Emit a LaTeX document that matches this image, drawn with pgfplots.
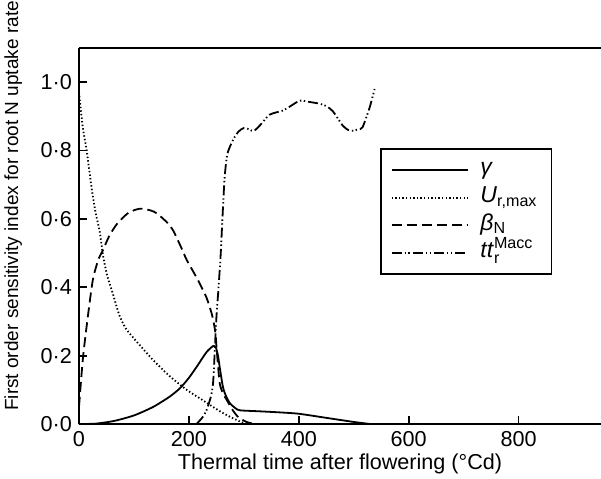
\documentclass[border=0pt]{standalone}
\usepackage{fontspec}
\setmainfont{Liberation Sans}
\usepackage{amsmath}
\usepackage{pgfplots}
\pgfplotsset{compat=1.18}
\usetikzlibrary{calc}

\newcommand{\fs}{\fontsize{10.8}{13}\selectfont}
\newcommand{\fy}{\fontsize{9.5}{11.4}\selectfont}
\newcommand{\fl}{\fontsize{11.5}{13.8}\selectfont}

\begin{document}
\begin{tikzpicture}
\begin{axis}[
    name=ax,
    scale only axis,
    width=261pt, height=188pt,
    xmin=0, xmax=950,
    ymin=0, ymax=1.1,
    axis x line*=box,
    axis y line*=left,
    y axis line style={-},
    axis line style={line width=1pt},
    xtick pos=bottom, ytick pos=left,
    tick align=inside,
    major tick length=4pt,
    tick style={line width=0.9pt, black},
    xtick={0,200,400,600,800},
    ytick={0,0.2,0.4,0.6,0.8,1.0},
    yticklabels={0·0,0·2,0·4,0·6,0·8,1·0},
    /pgf/number format/assume math mode=true,
    tick label style={font=\fs},
    xlabel={Thermal time after flowering (°Cd)},
    ylabel={First order sensitivity index for root N uptake rate},
    xlabel style={font=\fs, yshift=3pt},
    ylabel style={font=\fy, at={(axis description cs:-0.126,0.58)}, anchor=center},
    legend style={at={(0.907,0.733)}, anchor=north east, draw=black,
        line width=0.9pt, font=\fl, row sep=0pt,
        nodes={text height=9.3pt, text depth=4.5pt, inner ysep=0pt},
        /tikz/every odd column/.append style={column sep=4pt},
        inner xsep=5pt, inner ysep=3.5pt},
    legend cell align=left,
    legend image code/.code={\draw[#1] (0pt,0pt) -- (38pt,0pt);},
]
% gamma
\addplot[black, line width=0.9pt, smooth, tension=0.4] coordinates {
 (0,0) (30,0.001) (64,0.009) (100,0.025) (135,0.05) (165,0.08)
 (184,0.105) (200,0.135) (214,0.167) (232,0.21) (244,0.228) (249,0.224)
 (253,0.2) (256,0.167) (262,0.108) (268,0.08) (275,0.06) (285,0.046)
 (293,0.04) (330,0.037) (365,0.034) (400,0.03) (450,0.018) (500,0.006) (530,0)
};
\addlegendentry{\textit{γ}}
% U r,max
\addplot[black, line width=0.9pt, smooth, tension=0.4, dash pattern=on 0.7pt off 1.1pt] coordinates {
 (0,0.97) (7,0.867) (14,0.8) (23,0.69) (30,0.62) (38,0.56) (44,0.49)
 (52,0.43) (60,0.39) (73,0.32) (85,0.28) (100,0.25) (135,0.187)
 (165,0.14) (196,0.10) (220,0.075) (244,0.05) (262,0.032) (280,0.017)
 (295,0.006) (305,0)
};
\addlegendentry{\textit{U}\textsubscript{r,max}}
% beta N
\addplot[black, line width=0.9pt, smooth, tension=0.4, dash pattern=on 5pt off 2.5pt] coordinates {
 (0,0.05) (7,0.19) (15,0.3) (25,0.42) (35,0.48) (44,0.51) (55,0.55)
 (69,0.585) (90,0.618) (111,0.63) (130,0.625) (142,0.616) (160,0.59)
 (171,0.567) (185,0.52) (196,0.48) (210,0.44) (220,0.41) (232,0.37)
 (242,0.32) (248,0.27) (251,0.21) (256,0.12) (262,0.09) (269,0.07)
 (280,0.04) (290,0.02) (305,0.006) (320,0)
};
\addlegendentry{\textit{β}\textsubscript{N}}
% tt r Macc
\addplot[black, line width=0.9pt, smooth, tension=0.4,
    dash pattern=on 5pt off 1.5pt on 0.7pt off 1.2pt on 0.7pt off 1.5pt] coordinates {
 (214,0) (225,0.02) (232,0.04) (240,0.08) (244,0.12) (247,0.21) (250,0.31)
 (254,0.4) (258,0.5) (261,0.6) (265,0.72) (270,0.79) (280,0.83) (290,0.855)
 (300,0.866) (310,0.862) (318,0.857) (330,0.875) (347,0.905) (371,0.917)
 (385,0.93) (402,0.946) (420,0.942) (438,0.937) (450,0.93) (462,0.915)
 (480,0.873) (490,0.86) (498,0.858) (508,0.862) (516,0.868) (529,0.926) (538,0.98)
};
\addlegendentry{\textit{tt}$_{\text{r}}^{\text{Macc}}$}
\end{axis}
\pgfresetboundingbox
\useasboundingbox ($(ax.south west)+(-39.5pt,-27pt)$) rectangle ($(ax.north east)+(0pt,24pt)$);
\end{tikzpicture}
\end{document}
